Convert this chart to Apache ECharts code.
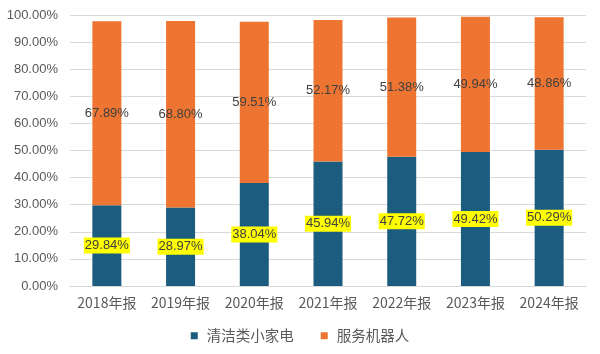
<!DOCTYPE html>
<html>
<head>
<meta charset="utf-8">
<script src="https://cdn.jsdelivr.net/npm/echarts@6/dist/echarts.min.js"></script>
<style>
  html, body { margin: 0; padding: 0; background: #fff; }
  #chart { width: 600px; height: 354px; }
</style>
</head>
<body>
<div id="chart"></div>
<script>
// 年报类别
const categories = ['2018年报', '2019年报', '2020年报', '2021年报', '2022年报', '2023年报', '2024年报']
// 清洁类小家电 占比
const cleaning = [29.84, 28.97, 38.04, 45.94, 47.72, 49.42, 50.29]
// 服务机器人 占比
const robots = [67.89, 68.80, 59.51, 52.17, 51.38, 49.94, 48.86]

const textColor = '#595959'

const chart = echarts.init(document.getElementById('chart'))
chart.setOption({
  animation: false,
  grid: { left: 70, right: 14, top: 15, bottom: 68 },
  legend: {
    bottom: 6,
    left: 'center',
    itemWidth: 7,
    itemHeight: 7,
    itemGap: 27,
    icon: 'rect',
    textStyle: { color: textColor, fontSize: 14.5, fontFamily: 'Noto Sans CJK SC', padding: [0, 0, 0, 4] },
    data: ['清洁类小家电', '服务机器人']
  },
  xAxis: {
    type: 'category',
    data: categories,
    axisLine: { lineStyle: { color: '#d9d9d9' } },
    axisTick: { show: false },
    axisLabel: { color: textColor, fontSize: 14, margin: 10, interval: 0, hideOverlap: false, fontFamily: 'Noto Sans CJK SC' }
  },
  yAxis: {
    type: 'value',
    min: 0,
    max: 100,
    interval: 10,
    axisLine: { show: false },
    axisTick: { show: false },
    splitLine: { lineStyle: { color: '#d9d9d9' } },
    axisLabel: {
      color: textColor,
      fontSize: 13,
      margin: 12,
      fontFamily: 'Liberation Sans',
      formatter: v => v.toFixed(2) + '%'
    }
  },
  series: [
    {
      name: '清洁类小家电',
      type: 'bar',
      stack: 'total',
      barWidth: 29,
      data: cleaning,
      itemStyle: { color: '#1c5d7f' },
      label: {
        show: true,
        position: 'inside',
        color: '#404040',
        fontSize: 13,
        fontFamily: 'Liberation Sans',
        backgroundColor: '#ffff00',
        padding: [2, 1, 1, 1],
        formatter: p => p.value.toFixed(2) + '%'
      }
    },
    {
      name: '服务机器人',
      type: 'bar',
      stack: 'total',
      barWidth: 29,
      data: robots,
      itemStyle: { color: '#ed7531' },
      label: {
        show: true,
        position: 'inside',
        color: '#404040',
        fontSize: 13,
        fontFamily: 'Liberation Sans',
        formatter: p => p.value.toFixed(2) + '%'
      }
    }
  ]
})
</script>
</body>
</html>
